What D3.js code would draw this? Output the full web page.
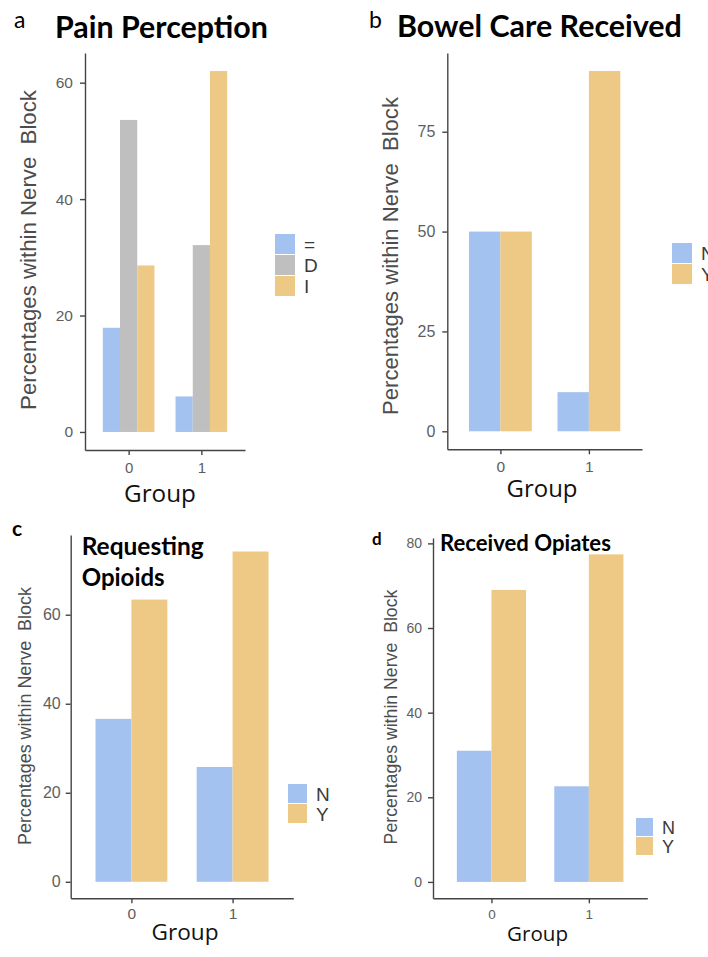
<!DOCTYPE html>
<meta charset="utf-8">
<style>
body { margin: 0; background: #fff; }
svg { display: block; }
.axis path, .axis line { fill: none; stroke: #444; stroke-width: 1.4; }
.axis text { font-family: "Liberation Sans", Arial, sans-serif; fill: #5e5e5e; }
.ylab { font-family: "Liberation Sans", Arial, sans-serif; fill: #4d4d4d; white-space: pre; }
.xlab { font-family: "Open Sans", sans-serif; fill: #111; }
.legend text { font-family: "Liberation Sans", Arial, sans-serif; fill: #3a3a3a; }
.title { font-family: Lato, "Open Sans", sans-serif; font-weight: bold; fill: #000; }
.letter { font-family: Lato, "Open Sans", sans-serif; fill: #000; }
</style>
<svg width="708" height="957"></svg>
<script src="https://cdn.jsdelivr.net/npm/d3@7"></script>
<script>

// Groups on the x axis (0 = control, 1 = nerve block)
var groups = ["0", "1"];

// a: Pain Perception (=, D, I)
var painKeys = ["=", "D", "I"];
var painEq = [17.9, 6.1];
var painD = [53.6, 32.1];
var painI = [28.6, 62.0];
var painTicks = [0, 20, 40, 60];

// b: Bowel Care Received
var bowelKeys = ["N", "Y"];
var bowelN = [50.0, 9.8];
var bowelY = [50.0, 90.2];
var bowelTicks = [0, 25, 50, 75];

// c: Requesting Opioids
var requestKeys = ["N", "Y"];
var requestN = [36.6, 25.8];
var requestY = [63.4, 74.2];
var requestTicks = [0, 20, 40, 60];

// d: Received Opiates
var opiateKeys = ["N", "Y"];
var opiateN = [31.0, 22.6];
var opiateY = [69.0, 77.4];
var opiateTicks = [0, 20, 40, 60, 80];

var colors = {"=": "#a4c2f0", "D": "#bfbfbf", "I": "#eec985", "N": "#a4c2f0", "Y": "#eec985"};

var svg = d3.select("svg");

// scale the font so the text spans a given width
function fit(sel, w) {
  sel.style("font-size", "100px");
  var len = sel.node().getComputedTextLength();
  sel.style("font-size", (100 * w / len) + "px");
  return sel;
}

function panel(cfg) {
  var g = svg.append("g");
  var max = d3.max(cfg.series, function(s) { return d3.max(s); });

  var y = d3.scaleLinear()
      .domain([-0.05 * max, 1.05 * max])
      .range([cfg.bottom, cfg.top]);

  var x = d3.scalePoint()
      .domain(groups)
      .range([cfg.left, cfg.right])
      .padding(0.6);

  var bw = x.step() * 0.71;
  var xs = d3.scaleBand().domain(cfg.keys).range([-bw / 2, bw / 2]);

  cfg.keys.forEach(function(k, i) {
    g.selectAll(null).data(cfg.series[i]).enter().append("rect")
        .attr("x", function(d, j) { return x(groups[j]) + xs(k); })
        .attr("width", xs.bandwidth())
        .attr("y", function(d) { return y(d); })
        .attr("height", function(d) { return y(0) - y(d); })
        .attr("fill", colors[k]);
  });

  var ya = g.append("g")
      .attr("class", "axis")
      .attr("transform", "translate(" + cfg.left + ",0)")
      .call(d3.axisLeft(y).tickValues(cfg.ticks).tickSize(5).tickPadding(cfg.pad).tickSizeOuter(0));
  ya.selectAll("text").style("font-size", cfg.tickFont + "px");

  var xa = g.append("g")
      .attr("class", "axis")
      .attr("transform", "translate(0," + cfg.bottom + ")")
      .call(d3.axisBottom(x).tickSize(5).tickPadding(cfg.pad).tickSizeOuter(0));
  xa.selectAll("text").style("font-size", (cfg.tickFont - 0.5) + "px");

  // y title
  fit(g.append("text")
      .attr("class", "ylab")
      .attr("text-anchor", "middle")
      .attr("transform", "translate(" + cfg.ylabX + "," + cfg.ylabY + ") rotate(-90)")
      .attr("dy", "0.36em")
      .text("Percentages within Nerve  Block"), cfg.ylabW);

  // x title
  fit(g.append("text")
      .attr("class", "xlab")
      .attr("text-anchor", "middle")
      .attr("x", cfg.xlabX)
      .attr("y", cfg.xlabY)
      .text("Group"), cfg.xlabW);

  // legend
  var lg = g.append("g").attr("class", "legend");
  cfg.keys.forEach(function(k, i) {
    lg.append("rect")
        .attr("x", cfg.legX)
        .attr("y", cfg.legY + i * cfg.legStep)
        .attr("width", cfg.legW)
        .attr("height", cfg.legStep - 1)
        .attr("fill", colors[k]);
    lg.append("text")
        .attr("x", cfg.legX + cfg.legW + 9)
        .attr("y", cfg.legY + i * cfg.legStep + cfg.legStep / 2)
        .attr("dy", "0.36em")
        .style("font-size", cfg.legFont + "px")
        .text(k);
  });

  // panel letter and title
  g.append("text")
      .attr("class", "letter")
      .attr("x", cfg.letterX)
      .attr("y", cfg.letterY)
      .style("font-size", cfg.letterFont + "px")
      .style("font-weight", cfg.letterBold ? "bold" : "normal")
      .text(cfg.letter);

  cfg.title.forEach(function(t, i) {
    fit(g.append("text")
        .attr("class", "title")
        .attr("x", cfg.titleX)
        .attr("y", cfg.titleY[i])
        .text(t), cfg.titleW[i]);
  });
}

panel({
  keys: painKeys, series: [painEq, painD, painI], ticks: painTicks,
  left: 85, right: 245, top: 53, bottom: 450, pad: 7, tickFont: 15.5,
  ylabX: 28, ylabY: 250, ylabW: 320,
  xlabX: 160, xlabY: 502, xlabW: 72,
  legX: 275, legY: 234, legStep: 21, legW: 20, legFont: 19,
  letter: "a", letterX: 14, letterY: 28, letterFont: 23, letterBold: false,
  title: ["Pain Perception"], titleX: 55, titleY: [38], titleW: [213]
});

panel({
  keys: bowelKeys, series: [bowelN, bowelY], ticks: bowelTicks,
  left: 447.3, right: 642, top: 53, bottom: 449.3, pad: 7, tickFont: 16,
  ylabX: 390, ylabY: 256, ylabW: 318,
  xlabX: 542, xlabY: 497, xlabW: 71,
  legX: 672, legY: 243, legStep: 21, legW: 20, legFont: 19,
  letter: "b", letterX: 369, letterY: 28, letterFont: 23, letterBold: false,
  title: ["Bowel Care Received"], titleX: 397, titleY: [37], titleW: [285]
});

panel({
  keys: requestKeys, series: [requestN, requestY], ticks: requestTicks,
  left: 70.7, right: 293.3, top: 535, bottom: 898.3, pad: 5, tickFont: 16,
  ylabX: 25, ylabY: 716, ylabW: 258,
  xlabX: 185, xlabY: 940, xlabW: 67,
  legX: 288, legY: 784, legStep: 20, legW: 19, legFont: 19,
  letter: "c", letterX: 12, letterY: 536, letterFont: 21, letterBold: true,
  title: ["Requesting", "Opioids"], titleX: 81.7, titleY: [555, 586], titleW: [122, 83]
});

panel({
  keys: opiateKeys, series: [opiateN, opiateY], ticks: opiateTicks,
  left: 433, right: 647.3, top: 538, bottom: 898.3, pad: 6, tickFont: 14,
  ylabX: 391, ylabY: 717, ylabW: 255,
  xlabX: 537.5, xlabY: 941, xlabW: 61,
  legX: 636, legY: 818, legStep: 19, legW: 17, legFont: 18,
  letter: "d", letterX: 372, letterY: 545, letterFont: 17, letterBold: true,
  title: ["Received Opiates"], titleX: 440, titleY: [551], titleW: [171]
});

</script>
